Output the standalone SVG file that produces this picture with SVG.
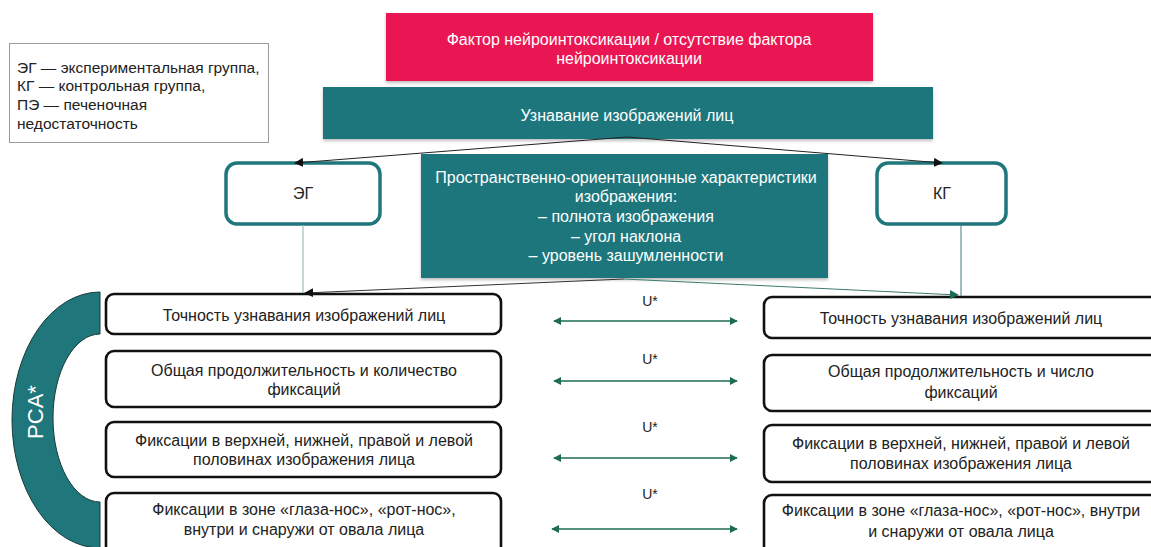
<svg xmlns="http://www.w3.org/2000/svg" width="1151" height="547" viewBox="0 0 1151 547">
<defs>
<style>
text{font-family:"Liberation Sans",Arial,sans-serif;font-size:16px;text-anchor:middle}
.w{fill:#ffffff}
.k{fill:#222222}
.teal{fill:#1F767B}
.grp{fill:#ffffff;stroke:#1F767B;stroke-width:3.5}
.row{fill:#ffffff;stroke:#111111;stroke-width:2.6}
.dbl{stroke:#1E6B55;stroke-width:1.3;fill:none;marker-start:url(#ga);marker-end:url(#ga)}
.u{font-size:14px}
.lg{font-size:15.5px;text-anchor:start}
</style>
<filter id="sh" x="-5%" y="-10%" width="110%" height="125%">
<feDropShadow dx="0" dy="2" stdDeviation="1.5" flood-color="#000" flood-opacity="0.25"/>
</filter>
<marker id="ka" viewBox="0 0 10 10" refX="9" refY="5" markerWidth="9" markerHeight="9" markerUnits="userSpaceOnUse" orient="auto"><path d="M0,0 L10,5 L0,10 z" fill="#111"/></marker>
<marker id="ta" viewBox="0 0 10 10" refX="9" refY="5" markerWidth="9" markerHeight="9" markerUnits="userSpaceOnUse" orient="auto"><path d="M0,0 L10,5 L0,10 z" fill="#1E6B55"/></marker>
<marker id="ga" viewBox="0 0 10 10" refX="9" refY="5" markerWidth="8" markerHeight="8" markerUnits="userSpaceOnUse" orient="auto-start-reverse"><path d="M0,0 L10,5 L0,10 z" fill="#1E6B55"/></marker>
</defs>

<g id="legend">
<rect x="9.5" y="43.5" width="259" height="99" fill="#fff" stroke="#9a9a9a" stroke-width="1"/>
<text class="k lg" x="17" y="73">ЭГ — экспериментальная группа,</text>
<text class="k lg" x="17" y="91">КГ — контрольная группа,</text>
<text class="k lg" x="17" y="110">ПЭ — печеночная</text>
<text class="k lg" x="17" y="129">недостаточность</text>
</g>

<g id="factor">
<rect x="386" y="13" width="487" height="68" fill="#E91552" filter="url(#sh)"/>
<text class="w" x="629" y="45">Фактор нейроинтоксикации / отсутствие фактора</text>
<text class="w" x="629" y="64">нейроинтоксикации</text>
</g>

<g id="recognition">
<rect x="323" y="87" width="610" height="52" class="teal" filter="url(#sh)"/>
<text class="w" x="627" y="121">Узнавание изображений лиц</text>
</g>

<g id="characteristics">
<rect x="421" y="154" width="407" height="124" class="teal" filter="url(#sh)"/>
<text class="w" x="626" y="183">Пространственно-ориентационные характеристики</text>
<text class="w" x="626" y="202">изображения:</text>
<text class="w" x="626" y="222">– полнота изображения</text>
<text class="w" x="626" y="242">– угол наклона</text>
<text class="w" x="626" y="261">– уровень зашумленности</text>
</g>

<g id="eg">
<rect x="226" y="163" width="154" height="61" rx="11" class="grp"/>
<text class="k" x="303" y="199">ЭГ</text>
</g>

<g id="kg">
<rect x="877" y="163" width="129" height="61" rx="11" class="grp"/>
<text class="k" x="942" y="199">КГ</text>
</g>

<g id="pca">
<path d="M100,292 A88,128 0 0 0 100,548 L100,502 A47,84 0 0 1 100,334 Z" fill="#1F767B" stroke="#1a3a3a" stroke-width="1"/>
<text class="w" transform="translate(43,412) rotate(-90)" style="font-size:22px">PCA*</text>
</g>

<g id="eg-rows">
<g id="eg-r1"><rect x="106" y="294" width="395" height="40" rx="8" class="row"/>
<text class="k" x="304" y="321">Точность узнавания изображений лиц</text></g>
<g id="eg-r2"><rect x="106" y="351" width="395" height="56" rx="8" class="row"/>
<text class="k" x="304" y="376">Общая продолжительность и количество</text>
<text class="k" x="304" y="395">фиксаций</text></g>
<g id="eg-r3"><rect x="106" y="422" width="395" height="55" rx="8" class="row"/>
<text class="k" x="304" y="446">Фиксации в верхней, нижней, правой и левой</text>
<text class="k" x="304" y="465">половинах изображения лица</text></g>
<g id="eg-r4"><rect x="106" y="493" width="395" height="70" rx="8" class="row"/>
<text class="k" x="304" y="515">Фиксации в зоне «глаза-нос», «рот-нос»,</text>
<text class="k" x="304" y="535">внутри и снаружи от овала лица</text></g>
</g>

<g id="kg-rows">
<g id="kg-r1"><rect x="764" y="297" width="400" height="41" rx="8" class="row"/>
<text class="k" x="961" y="324">Точность узнавания изображений лиц</text></g>
<g id="kg-r2"><rect x="764" y="355" width="400" height="56" rx="8" class="row"/>
<text class="k" x="961" y="377">Общая продолжительность и число</text>
<text class="k" x="961" y="398">фиксаций</text></g>
<g id="kg-r3"><rect x="764" y="425" width="400" height="57" rx="8" class="row"/>
<text class="k" x="961" y="449">Фиксации в верхней, нижней, правой и левой</text>
<text class="k" x="961" y="469">половинах изображения лица</text></g>
<g id="kg-r4"><rect x="764" y="495" width="400" height="70" rx="8" class="row"/>
<text class="k" x="961" y="516">Фиксации в зоне «глаза-нос», «рот-нос», внутри</text>
<text class="k" x="961" y="537">и снаружи от овала лица</text></g>
</g>

<g id="connectors">
<path d="M627,137 L295,163" stroke="#222" stroke-width="1" fill="none" marker-end="url(#ka)"/>
<path d="M627,137 L942,163" stroke="#222" stroke-width="1" fill="none" marker-end="url(#ka)"/>
<path d="M624,279 L305,293" stroke="#333" stroke-width="1" fill="none" marker-end="url(#ka)"/>
<path d="M624,279 L958,295" stroke="#3d7a70" stroke-width="1" fill="none" marker-end="url(#ta)"/>
<line x1="303" y1="225" x2="303" y2="293" stroke="#9DBFC0" stroke-width="1.2"/>
<line x1="961" y1="225" x2="961" y2="296" stroke="#3C7C7E" stroke-width="1"/>
<line class="dbl" x1="554" y1="321" x2="737" y2="321"/>
<line class="dbl" x1="554" y1="381" x2="737" y2="381"/>
<line class="dbl" x1="554" y1="458" x2="737" y2="458"/>
<line class="dbl" x1="552" y1="529" x2="737" y2="529"/>
<text class="k u" x="650" y="306">U*</text>
<text class="k u" x="650" y="364">U*</text>
<text class="k u" x="650" y="432">U*</text>
<text class="k u" x="650" y="499">U*</text>
</g>
</svg>
